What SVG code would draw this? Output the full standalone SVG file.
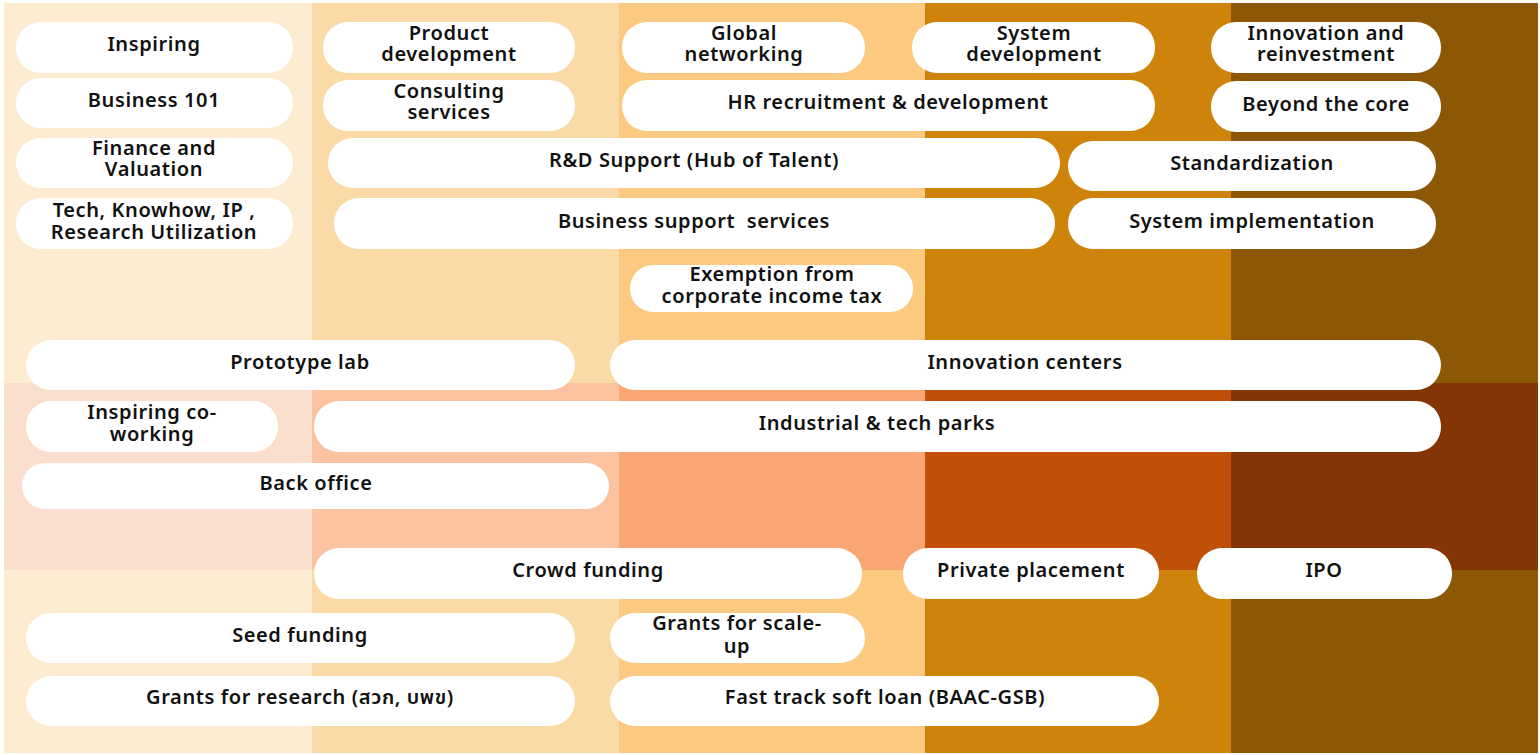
<svg xmlns="http://www.w3.org/2000/svg" width="1540" height="755" viewBox="0 0 1540 755">
<style>
.p{fill:#fff}
text{font-family:"Noto Sans","Noto Sans Thai","DejaVu Sans",sans-serif;font-size:20px;font-weight:600;letter-spacing:0.6px;fill:#111;text-anchor:middle}
</style>
<rect width="1540" height="755" fill="#fff"/>
<g id="background">
<rect x="4" y="3" width="308" height="750" fill="#FDEBD2"/>
<rect x="312" y="3" width="307" height="750" fill="#FADBA7"/>
<rect x="619" y="3" width="306" height="750" fill="#FBC97F"/>
<rect x="925" y="3" width="306" height="750" fill="#CE830A"/>
<rect x="1231" y="3" width="307" height="750" fill="#8C5806"/>
<rect x="4" y="383" width="308" height="187" fill="#FADFCF"/>
<rect x="312" y="383" width="307" height="187" fill="#FBC2A0"/>
<rect x="619" y="383" width="306" height="187" fill="#F9A673"/>
<rect x="925" y="383" width="306" height="187" fill="#C04F08"/>
<rect x="1231" y="383" width="307" height="187" fill="#843505"/>
</g>
<g id="connectors"></g>
<g id="n1"><rect class="p" x="16" y="22" width="277" height="51" rx="25"/><text x="154" y="51">Inspiring</text></g>
<g id="n2"><rect class="p" x="16" y="78" width="277" height="50" rx="25"/><text x="154" y="107">Business 101</text></g>
<g id="n3"><rect class="p" x="16" y="138" width="277" height="50" rx="25"/><text x="154" y="155">Finance and<tspan x="154" dy="21">Valuation</tspan></text></g>
<g id="n4"><rect class="p" x="16" y="198" width="277" height="51" rx="25"/><text x="154" y="217">Tech, Knowhow, IP ,<tspan x="154" dy="22">Research Utilization</tspan></text></g>
<g id="n5"><rect class="p" x="323" y="22" width="252" height="51" rx="25"/><text x="449" y="40">Product<tspan x="449" dy="21">development</tspan></text></g>
<g id="n6"><rect class="p" x="323" y="80" width="252" height="51" rx="25"/><text x="449" y="98">Consulting<tspan x="449" dy="21">services</tspan></text></g>
<g id="n7"><rect class="p" x="328" y="138" width="732" height="50" rx="25"/><text x="694" y="167">R&amp;D Support (Hub of Talent)</text></g>
<g id="n8"><rect class="p" x="334" y="198" width="721" height="51" rx="25"/><text x="694" y="228" xml:space="preserve">Business support  services</text></g>
<g id="n9"><rect class="p" x="622" y="22" width="243" height="51" rx="25"/><text x="744" y="40">Global<tspan x="744" dy="21">networking</tspan></text></g>
<g id="n10"><rect class="p" x="622" y="80" width="533" height="51" rx="25"/><text x="888" y="109">HR recruitment &amp; development</text></g>
<g id="n11"><rect class="p" x="630" y="265" width="283" height="47" rx="23"/><text x="772" y="281">Exemption from<tspan x="772" dy="22">corporate income tax</tspan></text></g>
<g id="n12"><rect class="p" x="912" y="22" width="243" height="51" rx="25"/><text x="1034" y="40">System<tspan x="1034" dy="21">development</tspan></text></g>
<g id="n13"><rect class="p" x="1068" y="141" width="368" height="50" rx="25"/><text x="1252" y="170">Standardization</text></g>
<g id="n14"><rect class="p" x="1068" y="198" width="368" height="51" rx="25"/><text x="1252" y="228">System implementation</text></g>
<g id="n15"><rect class="p" x="1211" y="22" width="230" height="51" rx="25"/><text x="1326" y="40">Innovation and<tspan x="1326" dy="21">reinvestment</tspan></text></g>
<g id="n16"><rect class="p" x="1211" y="81" width="230" height="51" rx="25"/><text x="1326" y="111">Beyond the core</text></g>
<g id="n17"><rect class="p" x="26" y="340" width="549" height="50" rx="25"/><text x="300" y="369">Prototype lab</text></g>
<g id="n18"><rect class="p" x="610" y="340" width="831" height="50" rx="25"/><text x="1025" y="369">Innovation centers</text></g>
<g id="n19"><rect class="p" x="26" y="401" width="252" height="51" rx="25"/><text x="152" y="419">Inspiring co-<tspan x="152" dy="22">working</tspan></text></g>
<g id="n20"><rect class="p" x="314" y="401" width="1127" height="51" rx="25"/><text x="877" y="430">Industrial &amp; tech parks</text></g>
<g id="n21"><rect class="p" x="22" y="463" width="587" height="46" rx="23"/><text x="316" y="490">Back office</text></g>
<g id="n22"><rect class="p" x="314" y="548" width="548" height="51" rx="25"/><text x="588" y="577">Crowd funding</text></g>
<g id="n23"><rect class="p" x="903" y="548" width="256" height="51" rx="25"/><text x="1031" y="577">Private placement</text></g>
<g id="n24"><rect class="p" x="1197" y="548" width="255" height="51" rx="25"/><text x="1324" y="577">IPO</text></g>
<g id="n25"><rect class="p" x="26" y="613" width="549" height="50" rx="25"/><text x="300" y="642">Seed funding</text></g>
<g id="n26"><rect class="p" x="610" y="613" width="255" height="50" rx="25"/><text x="737" y="630">Grants for scale-<tspan x="737" dy="23">up</tspan></text></g>
<g id="n27"><rect class="p" x="26" y="676" width="549" height="50" rx="25"/><text x="300" y="704">Grants for research (สวก, บพข)</text></g>
<g id="n28"><rect class="p" x="610" y="676" width="549" height="50" rx="25"/><text x="885" y="704">Fast track soft loan (BAAC-GSB)</text></g>
</svg>
